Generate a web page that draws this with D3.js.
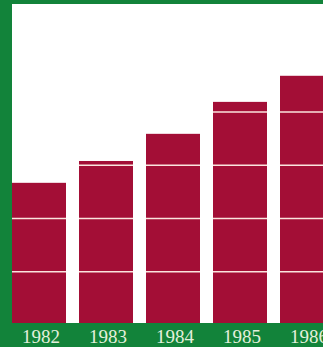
<!DOCTYPE html>
<html>
<head>
<meta charset="utf-8">
<script src="https://cdn.jsdelivr.net/npm/d3@7"></script>
<style>
  html, body { margin: 0; padding: 0; background: #12833a; }
  svg { display: block; }
</style>
</head>
<body>
<svg width="323" height="347"></svg>
<script>
  // values, in "gridline" units
  const years = ['1982', '1983', '1984', '1985', '1986'];
  const values = [2.67, 3.08, 3.59, 4.19, 4.68];
  const gridTicks = [1, 2, 3, 4];

  const svg = d3.select('svg');
  const width = +svg.attr('width');
  const height = +svg.attr('height');

  const green = '#12833a';
  const barColor = '#a30e36';

  svg.append('rect')
    .attr('width', width).attr('height', height)
    .attr('fill', green);

  // white panel
  svg.append('rect')
    .attr('x', 12).attr('y', 4)
    .attr('width', width - 12).attr('height', 323 - 4)
    .attr('fill', '#ffffff');

  const xScale = d3.scaleBand()
    .domain(years)
    .range([12, 334])
    .paddingInner(13 / 67)
    .paddingOuter(0);

  const yScale = d3.scaleLinear()
    .domain([0, 5])
    .range([325, 325 - 5 * 53.25]);

  const data = years.map((y, i) => ({ year: y, value: values[i] }));

  const g = svg.append('g');

  g.selectAll('rect.bar').data(data)
    .enter().append('rect')
      .attr('class', 'bar')
      .attr('x', d => xScale(d.year))
      .attr('width', xScale.bandwidth())
      .attr('y', d => yScale(d.value))
      .attr('height', d => 323 - yScale(d.value))
      .attr('fill', barColor);

  // white rules only across the bars
  data.forEach(d => {
    gridTicks.filter(t => t < d.value).forEach(t => {
      g.append('line')
        .attr('x1', xScale(d.year))
        .attr('x2', xScale(d.year) + xScale.bandwidth())
        .attr('y1', yScale(t))
        .attr('y2', yScale(t))
        .attr('stroke', '#fbe4de')
        .attr('stroke-width', 1.6);
    });
  });

  const xAxis = d3.axisBottom(xScale).tickSize(0).tickPadding(0);
  const xAxisG = svg.append('g')
    .attr('transform', 'translate(2,0)')
    .call(xAxis);
  xAxisG.select('.domain').remove();
  xAxisG.selectAll('text')
    .attr('y', 343)
    .attr('dy', null)
    .attr('fill', '#e4f0dc')
    .style('font', '19px "Liberation Serif", "DejaVu Serif", serif');
</script>
</body>
</html>
